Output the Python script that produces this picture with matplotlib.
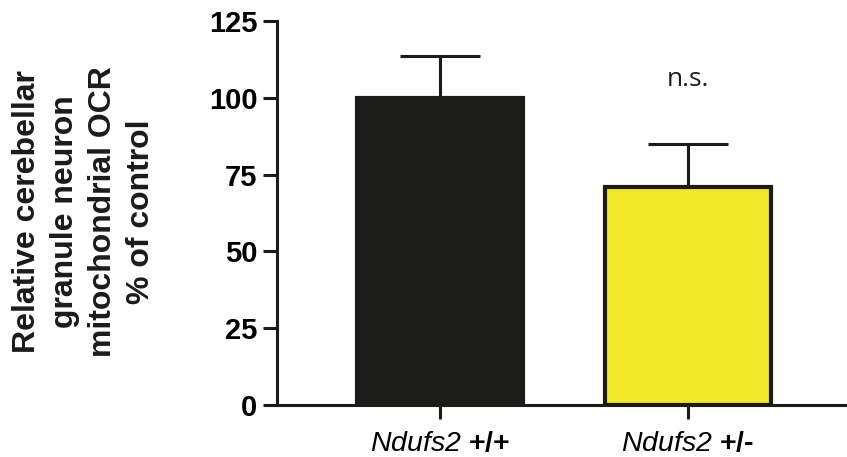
import matplotlib
matplotlib.use("Agg")
import matplotlib.pyplot as plt

# genotype groups, mean OCR (% of control) and SEM
groups = [r"$\mathsf{Ndufs2}$ +/+", r"$\mathsf{Ndufs2}$ +/-"]
means = [100, 71]
sems = [13.5, 13.8]
colors = ["#1b1b19", "#f2e82a"]
yticks = [0, 25, 50, 75, 100, 125]

plt.rcParams["font.family"] = "Liberation Sans"
plt.rcParams["mathtext.fontset"] = "custom"
# sf slot used for the italic gene name (keeps the digit italic too)
plt.rcParams["mathtext.sf"] = "Liberation Sans:italic"
plt.rcParams["mathtext.rm"] = "Liberation Sans"

fig = plt.figure(figsize=(8.47, 4.57), dpi=100)
ax = fig.add_axes([277 / 847, 1 - 405 / 457, 1 - 277 / 847, (405 - 21) / 457])

x = range(len(groups))
ax.bar(x, means, width=0.67, color=colors, edgecolor="#1b1b19", linewidth=3, zorder=2)
ax.errorbar(x, means, yerr=[[0] * len(sems), sems], fmt="none", ecolor="#1b1b19",
            elinewidth=2.2, capsize=29, capthick=2.2, zorder=1)

ax.set_xlim(-0.657, 1.641)
ax.set_ylim(0, 125)
ax.set_yticks(yticks)
ax.set_yticklabels([str(t) for t in yticks], fontsize=21, fontweight="bold")
ax.set_xticks(list(x))
ax.set_xticklabels(groups, fontsize=20.5, fontweight="bold")

for s in ["top", "right"]:
    ax.spines[s].set_visible(False)
for s in ["left", "bottom"]:
    ax.spines[s].set_linewidth(2.2)
    ax.spines[s].set_color("#1b1b19")
ax.tick_params(axis="both", direction="out", length=10, width=2.2, color="#1b1b19")
ax.tick_params(axis="y", pad=4)
ax.tick_params(axis="x", pad=9)

ax.text(1, 106, "n.s.", ha="center", va="center", fontsize=19, family="Open Sans",
        color="#1b1b19")

fig.text(84 / 847, 1 - 212 / 457,
         "Relative cerebellar\ngranule neuron\nmitochondrial OCR\n% of control",
         rotation=90, ha="center", va="center", multialignment="center",
         fontsize=23, fontweight="bold", linespacing=1.36, color="#1b1b19")

fig.savefig("out.png", dpi=100)
